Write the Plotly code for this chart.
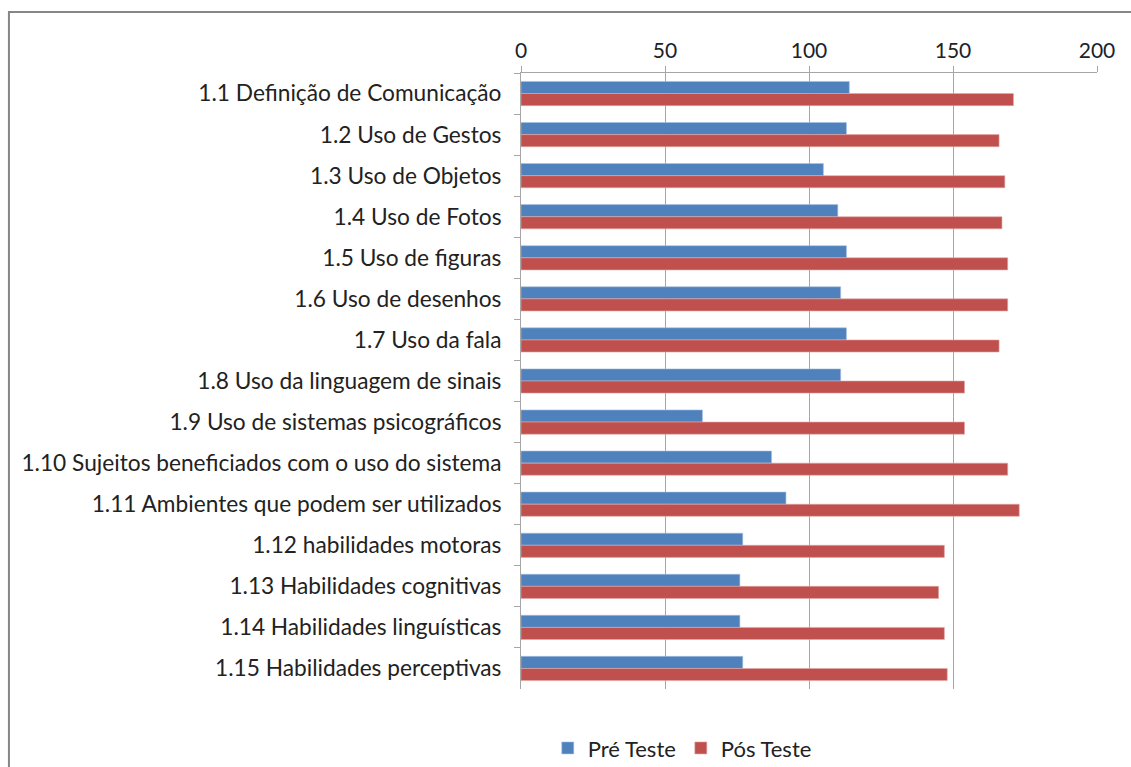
import plotly.graph_objects as go

categorias = [
    "1.1 Definição de Comunicação",
    "1.2 Uso de Gestos",
    "1.3 Uso de Objetos",
    "1.4 Uso de Fotos",
    "1.5 Uso de figuras",
    "1.6 Uso de desenhos",
    "1.7 Uso da fala",
    "1.8 Uso da linguagem de sinais",
    "1.9 Uso de sistemas psicográficos",
    "1.10 Sujeitos beneficiados com o uso do sistema",
    "1.11 Ambientes que podem ser utilizados",
    "1.12 habilidades motoras",
    "1.13 Habilidades cognitivas",
    "1.14 Habilidades linguísticas",
    "1.15 Habilidades perceptivas",
]
pre_teste = [114, 113, 105, 110, 113, 111, 113, 111, 63, 87, 92, 77, 76, 76, 77]
pos_teste = [171, 166, 168, 167, 169, 169, 166, 154, 154, 169, 173, 147, 145, 147, 148]
x_ticks = [0, 50, 100, 150, 200]

fig = go.Figure()
fig.add_trace(go.Bar(
    y=categorias, x=pre_teste, orientation="h", name="Pré Teste",
    marker=dict(color="#4F81BD", line=dict(color="#A9C1E0", width=0.6)),
))
fig.add_trace(go.Bar(
    y=categorias, x=pos_teste, orientation="h", name="Pós Teste",
    marker=dict(color="#C0504D", line=dict(color="#E0A8A6", width=0.6)),
))

fig.update_layout(
    width=1131, height=767,
    margin=dict(l=521, r=34, t=73, b=78, autoexpand=False),
    paper_bgcolor="white", plot_bgcolor="white",
    barmode="group", bargap=0.41, bargroupgap=0,
    font=dict(family="Lato, Open Sans, sans-serif", size=22, color="#222"),
    legend=dict(orientation="h", x=0.28, xanchor="center", y=-0.096, yanchor="middle",
                font=dict(size=22), traceorder="normal"),
    xaxis=dict(
        side="top", range=[0, 200], tickvals=x_ticks, showgrid=True,
        gridcolor="#A6A6A6", gridwidth=1, showline=True, linecolor="#A6A6A6",
        ticks="outside", ticklen=6, tickcolor="#A6A6A6", zeroline=False,
        tickfont=dict(size=21),
    ),
    yaxis=dict(
        autorange="reversed", showline=True, linecolor="#A6A6A6",
        ticks="outside", ticklen=6, tickcolor="#A6A6A6", tickson="boundaries",
        ticklabelstandoff=14, tickfont=dict(size=22.7),
    ),
    shapes=[dict(
        type="rect", xref="paper", yref="paper",
        x0=-0.889, x1=1.5, y0=-0.5, y1=1.099,
        line=dict(color="#868686", width=2), fillcolor="rgba(0,0,0,0)",
    )],
)

# drop the default body margin so the figure fills the window exactly
fig.write_html(
    "out.html",
    config={"displayModeBar": False},
    post_script="document.body.style.margin='0px';",
)
